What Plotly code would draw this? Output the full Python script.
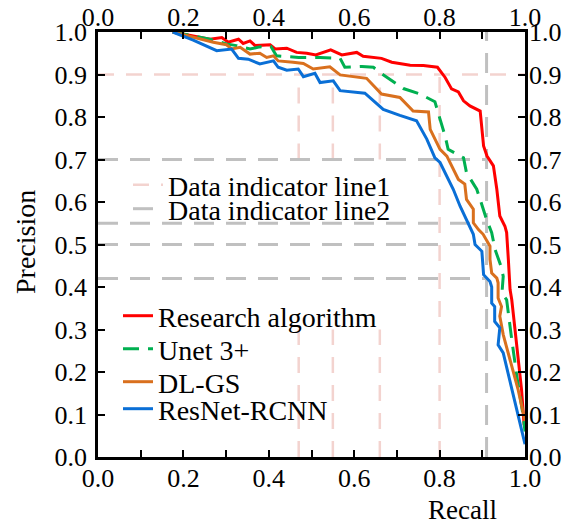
import plotly.graph_objects as go

# ---------------- data ----------------
research_x = [0.175,0.223,0.262,0.290,0.305,0.329,0.340,0.356,0.368,0.403,0.415,0.442,0.465,0.489,0.510,0.545,0.571,0.606,0.621,0.664,0.688,0.731,0.762,0.795,0.813,0.828,0.844,0.856,0.871,0.895,0.903,0.911,0.926,0.934,0.941,0.953,0.957,0.961,0.965,0.969,0.981,0.992,0.998]
research_y = [1.000,0.991,0.983,0.987,0.976,0.983,0.973,0.979,0.968,0.970,0.960,0.962,0.952,0.950,0.946,0.958,0.946,0.952,0.943,0.938,0.929,0.922,0.921,0.917,0.893,0.866,0.859,0.838,0.826,0.814,0.732,0.708,0.685,0.630,0.567,0.543,0.528,0.465,0.394,0.370,0.260,0.158,0.075]

unet_x = [0.175,0.262,0.301,0.324,0.356,0.379,0.405,0.418,0.470,0.520,0.567,0.578,0.618,0.645,0.660,0.684,0.715,0.754,0.789,0.801,0.813,0.820,0.856,0.863,0.887,0.895,0.910,0.922,0.930,0.945,0.949,0.946,0.957,0.969,0.981,0.996,1.000]
unet_y = [1.000,0.983,0.972,0.968,0.960,0.965,0.966,0.944,0.940,0.940,0.938,0.917,0.919,0.917,0.905,0.889,0.867,0.854,0.836,0.795,0.755,0.724,0.704,0.669,0.630,0.606,0.559,0.528,0.488,0.445,0.425,0.385,0.370,0.276,0.189,0.095,0.060]

dlgs_x = [0.175,0.223,0.270,0.301,0.313,0.333,0.356,0.379,0.395,0.411,0.422,0.457,0.481,0.504,0.543,0.567,0.629,0.664,0.707,0.738,0.774,0.778,0.789,0.801,0.817,0.832,0.844,0.859,0.863,0.879,0.879,0.891,0.902,0.918,0.918,0.922,0.934,0.937,0.937,0.945,0.941,0.949,0.965,0.984,1.000]
dlgs_y = [1.000,0.987,0.976,0.970,0.960,0.964,0.948,0.950,0.940,0.944,0.932,0.929,0.926,0.913,0.918,0.899,0.891,0.854,0.846,0.814,0.812,0.771,0.748,0.724,0.708,0.677,0.653,0.642,0.606,0.583,0.551,0.535,0.524,0.496,0.465,0.433,0.421,0.410,0.374,0.354,0.331,0.288,0.229,0.158,0.085]

resnet_x = [0.175,0.223,0.278,0.313,0.329,0.352,0.379,0.411,0.422,0.442,0.469,0.481,0.508,0.520,0.551,0.567,0.625,0.668,0.707,0.746,0.770,0.789,0.801,0.832,0.848,0.867,0.879,0.883,0.899,0.903,0.918,0.922,0.922,0.929,0.929,0.941,0.937,0.949,1.000]
resnet_y = [1.000,0.981,0.956,0.960,0.938,0.936,0.925,0.932,0.917,0.910,0.913,0.895,0.903,0.881,0.885,0.862,0.856,0.818,0.804,0.791,0.748,0.704,0.693,0.630,0.590,0.551,0.524,0.500,0.484,0.429,0.413,0.400,0.362,0.354,0.319,0.304,0.264,0.245,0.030]

# indicator line 1 (pink): horizontal at 0.9, vertical segments (x, y_from, y_to)
line1_h = 0.9
line1_v_segments = [(0.47, 0.70, 0.90), (0.47, 0.0, 0.30),
                    (0.55, 0.70, 0.90), (0.55, 0.0, 0.30),
                    (0.66, 0.70, 0.90), (0.66, 0.0, 0.30),
                    (0.80, 0.0, 0.90)]
# indicator line 2 (gray): horizontals up to the vertical at 0.91
line2_h = [0.70, 0.55, 0.50, 0.42]
line2_v = 0.91

x_ticks = [i / 10 for i in range(11)]
x_ticktext = ["%.1f" % v if i % 2 == 0 else "" for i, v in enumerate(x_ticks)]
y_ticks = [i / 10 for i in range(11)]
y_ticktext = ["%.1f" % v for v in y_ticks]

FONT = "Liberation Serif"
PINK = "#f3d3cf"
GRAY = "#c0c0c0"

# page body adds an 8px offset; figure is sized/placed to compensate
OFF = 8
W, H = 582 - OFF, 523 - OFF
PL, PT = 98 - OFF, 32 - OFF          # plot left/top in figure pixels
PW, PH = 427, 425                     # plot width/height

# ---------------- build ----------------
l1x, l1y = [0, 1, None], [line1_h, line1_h, None]
for xv, y0, y1 in line1_v_segments:
    l1x += [xv, xv, None]
    l1y += [y0, y1, None]
l2x, l2y = [], []
for hv in line2_h:
    l2x += [0, line2_v, None]
    l2y += [hv, hv, None]
l2x += [line2_v, line2_v]
l2y += [0, 1]

fig = go.Figure()
fig.add_trace(go.Scatter(x=l1x, y=l1y, mode="lines", name="Data indicator line1",
                         line=dict(color=PINK, width=2.5, dash="16px,12px"), legend="legend"))
fig.add_trace(go.Scatter(x=l2x, y=l2y, mode="lines", name="Data indicator line2",
                         line=dict(color=GRAY, width=3, dash="20px,12px"), legend="legend2"))

series = [
    ("Research algorithm", research_x, research_y, "#ff0000", "solid", "legend3"),
    ("Unet 3+", unet_x, unet_y, "#00b050", "16px,9px", "legend4"),
    ("DL-GS", dlgs_x, dlgs_y, "#d9701e", "solid", "legend5"),
    ("ResNet-RCNN", resnet_x, resnet_y, "#0a6fd6", "solid", "legend6"),
]
for name, xs, ys, col, dash, lg in series:
    fig.add_trace(go.Scatter(x=xs, y=ys, mode="lines", name=name,
                             line=dict(color=col, width=3, dash=dash), legend=lg))

# invisible trace to host top/right axes
fig.add_trace(go.Scatter(x=[0.5], y=[0.5], xaxis="x2", yaxis="y2", mode="markers",
                         marker=dict(opacity=0), showlegend=False, hoverinfo="skip"))

tickfont = dict(family=FONT, size=26, color="black")
axis_common = dict(range=[0, 1], showgrid=False, zeroline=False, ticks="inside",
                   ticklen=7, tickwidth=2, tickcolor="black", tickfont=tickfont,
                   automargin=False)

legfont = dict(family=FONT, size=28, color="black")

def px_x(p):  # reference pixel -> paper x
    return (p - 98) / PW

def px_y(p):  # reference pixel -> paper y
    return (32 + PH - p) / PH

def leg(xp, yp):
    return dict(x=px_x(xp), y=px_y(yp), xanchor="left", yanchor="middle", font=legfont,
                bgcolor="rgba(0,0,0,0)", borderwidth=0, itemclick=False)

fig.update_layout(
    width=W, height=H,
    margin=dict(l=PL, r=W - PL - PW, t=PT, b=H - PT - PH, pad=0, autoexpand=False),
    paper_bgcolor="white", plot_bgcolor="white",
    font=dict(family=FONT, color="black"),
    xaxis=dict(**axis_common, tickvals=x_ticks, ticktext=x_ticktext,
               showline=True, linewidth=2.5, linecolor="black", mirror=True,
               ticklabelstandoff=-4),
    yaxis=dict(**axis_common, tickvals=y_ticks, ticktext=y_ticktext,
               showline=True, linewidth=2.5, linecolor="black", mirror=True,
               ticklabelstandoff=3),
    xaxis2=dict(**axis_common, tickvals=x_ticks, ticktext=x_ticktext, overlaying="x",
                side="top", anchor="y2", showline=False),
    yaxis2=dict(**axis_common, tickvals=y_ticks, ticktext=y_ticktext, overlaying="y",
                side="right", anchor="x2", showline=False, ticklabelstandoff=3),
    legend=leg(128, 185),
    legend2=leg(128, 209),
    legend3=leg(118, 316),
    legend4=leg(118, 349),
    legend5=leg(118, 382),
    legend6=leg(118, 409),
    annotations=[
        dict(text="Precision", xref="paper", yref="paper", x=px_x(25), y=px_y(242),
             xanchor="center", yanchor="middle",
             textangle=-90, showarrow=False, font=dict(family=FONT, size=28, color="black")),
        dict(text="Recall", xref="paper", yref="paper", x=px_x(462), y=px_y(510),
             xanchor="center", yanchor="middle",
             showarrow=False, font=dict(family=FONT, size=27, color="black")),
    ],
    showlegend=True,
)

fig.write_html("out.html")
